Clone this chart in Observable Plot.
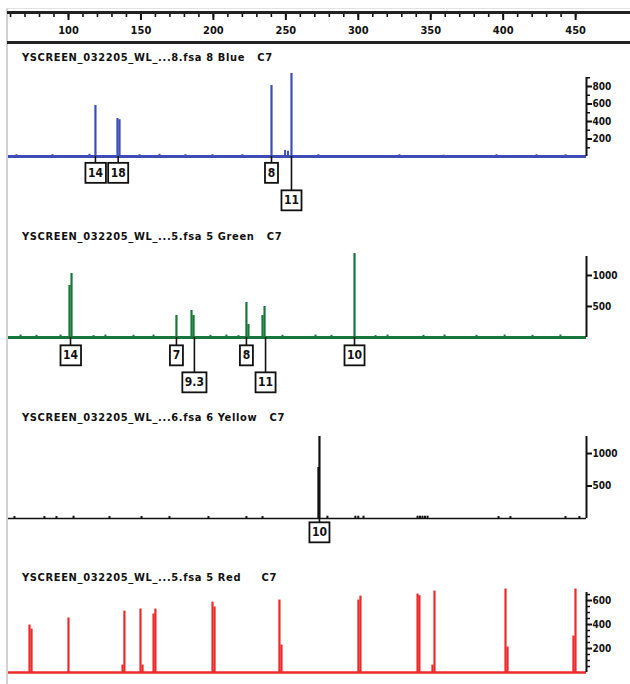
<!DOCTYPE html>
<html><head><meta charset="utf-8">
<script src="https://cdn.jsdelivr.net/npm/d3@7"></script>
<script src="https://cdn.jsdelivr.net/npm/@observablehq/plot@0.6"></script>
<style>
body{margin:0;background:#fff;}
#wrap{position:relative;width:630px;height:684px;overflow:hidden;background:#fff;}
#frame{position:absolute;left:6px;top:8px;width:700px;height:700px;border-left:2px solid #d2d2d2;border-top:1px solid #e2e2e2;}
#topbar{position:absolute;left:7px;top:11px;width:640px;height:27px;border-top:3px solid #222;border-bottom:3px solid #222;}
.title{position:absolute;left:22px;font-family:"DejaVu Sans Condensed","DejaVu Sans",sans-serif;font-weight:bold;font-size:11px;letter-spacing:0.65px;line-height:12px;white-space:pre;color:#111;}
.panel{position:absolute;left:0;}
</style></head><body><div id="wrap"><div id="frame"></div><div id="topbar"></div></div>
<script>
// ---------- data ----------
const xDomain = [58.6, 457.5];
const axisMajor = [100, 150, 200, 250, 300, 350, 400, 450];
const axisMinor = d3.range(60, 458, 10);

const titles = [
  "YSCREEN_032205_WL_...8.fsa 8 Blue   C7",
  "YSCREEN_032205_WL_...5.fsa 5 Green   C7",
  "YSCREEN_032205_WL_...6.fsa 6 Yellow   C7",
  "YSCREEN_032205_WL_...5.fsa 5 Red     C7"
];

// Blue channel
const bluePos = [118.6, 133.8, 135.2, 240.1, 253.9];
const blueHeight = [583, 434, 420, 811, 949];
const blueNoisePos = [64.1, 89, 114.5, 149, 162.8, 180.7, 199.4, 220, 249.5, 251.5, 272.5, 328.4, 358.8, 395.4, 423, 443];
const blueNoiseHeight = [20, 20, 25, 20, 25, 20, 20, 20, 70, 60, 20, 20, 15, 20, 20, 20];
const blueLabels = ["14", "18", "8", "11"];
const blueLabelPos = [118.6, 134.3, 240.1, 253.9];
const blueLabelRow = [1, 1, 1, 2];
const blueTicks = [200, 400, 600, 800];
const blueMinor = [100, 300, 500, 700, 900];

// Green channel
const greenPos = [100.7, 102.1, 174.5, 184.9, 186.3, 222.8, 224.2, 233.9, 235.3, 297.4];
const greenHeight = [839, 1032, 355, 435, 355, 565, 210, 355, 500, 1355];
const greenNoisePos = [66.9, 77.9, 94.5, 117.3, 125.5, 144.9, 158.7, 198, 209, 217.3, 247.7, 270.5, 281.5, 311.9, 320.2, 345, 359.5, 381.6, 401, 420.2, 439.5];
const greenNoiseHeight = [40, 35, 40, 30, 40, 35, 40, 35, 40, 30, 35, 40, 35, 30, 40, 35, 40, 35, 40, 35, 40];
const greenLabels = ["14", "7", "9.3", "8", "11", "10"];
const greenLabelPos = [101.4, 174.5, 186.9, 222.8, 236, 297.4];
const greenLabelRow = [1, 1, 2, 1, 2, 1];
const greenTicks = [500, 1000];

// Yellow channel (drawn black)
const yellowPos = [272.5, 273.2];
const yellowHeight = [785, 1262];
const yellowNoisePos = [62.7, 83.4, 91.7, 103.5, 128.3, 150.4, 169.7, 196.6, 222.8, 233.9, 278.7, 298, 300, 303.6, 340.9, 342.6, 344.3, 346, 347.8, 396.8, 405, 443, 452.6];
const yellowNoiseHeight = [30, 30, 30, 35, 30, 30, 30, 30, 30, 30, 35, 35, 35, 35, 35, 35, 35, 35, 35, 30, 30, 30, 30];
const yellowLabels = ["10"];
const yellowLabelPos = [273.2];
const yellowLabelRow = [1];
const yellowTicks = [500, 1000];

// Red channel
const redPos = [73.1, 74.5, 100, 137.3, 138.6, 149.7, 151.1, 158.7, 160, 199.4, 200.8, 245.6, 247, 300.1, 301.5, 340.9, 342.2, 351.2, 352.6, 401.6, 403, 448.5, 449.9];
const redHeight = [396, 362, 454, 62, 512, 529, 62, 488, 529, 587, 546, 604, 229, 604, 637, 654, 640, 62, 679, 696, 212, 304, 696];
const redTicks = [200, 400, 600];
const redMinor = [50, 100, 150, 250, 300, 350, 450, 500, 550, 650];

// ---------- drawing ----------
const wrap = document.getElementById("wrap");
const tickFont = '"DejaVu Sans Condensed","DejaVu Sans",sans-serif';
const labelFont = '"DejaVu Sans Condensed","DejaVu Sans",sans-serif';

// top ruler
const ruler = Plot.plot({
  width: 630, height: 45, marginLeft: 8, marginRight: 44, marginTop: 0, marginBottom: 31,
  x: {domain: xDomain},
  marks: [
    Plot.axisX({ticks: axisMinor, tickSize: 3, tickFormat: () => "", strokeWidth: 1.6, label: null}),
    Plot.axisX({ticks: axisMajor, tickSize: 6, tickPadding: 6, tickFormat: d => String(d), label: null,
      strokeWidth: 2, fontWeight: "bold", fontSize: 11, fontFamily: tickFont})
  ],
  style: {background: "transparent", color: "#111", overflow: "visible"}
});
ruler.classList.add("panel");
ruler.style.top = "0px";
wrap.appendChild(ruler);

function panel(cfg) {
  const marginTop = cfg.axisTop - cfg.svgTop;
  const marginBottom = cfg.svgBottom - cfg.baseline;
  const height = cfg.svgBottom - cfg.svgTop;
  const k = (cfg.baseline - cfg.axisTop) / cfg.yMax;
  const below = px => -px / k;
  const peaks = cfg.pos.map((x, i) => ({x, h: cfg.height[i]}));
  const noise = (cfg.noisePos || []).map((x, i) => ({x, h: cfg.noiseHeight[i]}));
  const labels = (cfg.labels || []).map((t, i) => ({t, x: cfg.labelPos[i], row: cfg.labelRow[i]}));
  const centerY = d => below(d.row === 1 ? cfg.row1 : cfg.row2);
  const marks = [
    Plot.ruleY([0], {stroke: cfg.color, strokeWidth: cfg.baseW}),
    Plot.ruleX(noise, {x: "x", y1: 0, y2: "h", stroke: cfg.color, strokeWidth: 2}),
    Plot.ruleX(peaks, {x: "x", y1: 0, y2: "h", stroke: cfg.color, strokeWidth: 2.2}),
    Plot.ruleX(labels, {x: "x", y1: 0, y2: centerY, stroke: "#111", strokeWidth: 1.6}),
    Plot.text(labels, {x: "x", y: centerY, text: "t", fill: "#111", fontWeight: "bold",
      fontSize: 12, fontFamily: labelFont}),
    Plot.ruleX([xDomain[1]], {y1: 0, y2: cfg.yMax, stroke: "#111", strokeWidth: 2}),
    Plot.axisY({anchor: "right", ticks: cfg.ticks, tickSize: 5, tickPadding: 1, strokeWidth: 2, label: null,
      tickFormat: d => String(d), fontWeight: "bold", fontSize: 10, fontFamily: tickFont})
  ];
  if (cfg.minor) marks.push(Plot.axisY({anchor: "right", ticks: cfg.minor, tickSize: 3, strokeWidth: 1.5, label: null, tickFormat: () => ""}));
  const svg = Plot.plot({
    width: 630, height, marginLeft: 8, marginRight: 44, marginTop, marginBottom,
    x: {domain: xDomain, axis: null},
    y: {domain: [0, cfg.yMax]},
    marks,
    style: {background: "transparent", color: "#111", overflow: "visible"}
  });
  svg.classList.add("panel");
  svg.style.top = cfg.svgTop + "px";
  wrap.appendChild(svg);
  // boxes around allele labels
  d3.select(svg).selectAll('g[aria-label="text"] text').each(function () {
    const b = this.getBBox();
    const w = Math.max(b.width + 5, 13);
    const r = d3.select(this.parentNode).insert("rect", () => this)
      .attr("x", b.x + b.width / 2 - w / 2).attr("y", b.y - 3)
      .attr("width", w).attr("height", b.height + 6)
      .attr("fill", "#fff").attr("stroke", "#111").attr("stroke-width", 1.8);
    const tr = this.getAttribute("transform");
    if (tr) r.attr("transform", tr);
  });
  const t = document.createElement("div");
  t.className = "title";
  t.textContent = cfg.title;
  t.style.top = cfg.titleTop + "px";
  wrap.appendChild(t);
}

panel({title: titles[0], titleTop: 52, svgTop: 68, axisTop: 77, baseline: 156, svgBottom: 214, yMax: 903,
  color: "#3d4db5", baseW: 3, pos: bluePos, height: blueHeight, noisePos: blueNoisePos, noiseHeight: blueNoiseHeight,
  labels: blueLabels, labelPos: blueLabelPos, labelRow: blueLabelRow, row1: 16.5, row2: 44,
  ticks: blueTicks, minor: blueMinor});

panel({title: titles[1], titleTop: 231, svgTop: 248, axisTop: 256, baseline: 337, svgBottom: 395, yMax: 1306,
  color: "#17773a", baseW: 3, pos: greenPos, height: greenHeight, noisePos: greenNoisePos, noiseHeight: greenNoiseHeight,
  labels: greenLabels, labelPos: greenLabelPos, labelRow: greenLabelRow, row1: 18, row2: 45,
  ticks: greenTicks});

panel({title: titles[2], titleTop: 412, svgTop: 428, axisTop: 436, baseline: 518, svgBottom: 545, yMax: 1262,
  color: "#111", baseW: 1.6, pos: yellowPos, height: yellowHeight, noisePos: yellowNoisePos, noiseHeight: yellowNoiseHeight,
  labels: yellowLabels, labelPos: yellowLabelPos, labelRow: yellowLabelRow, row1: 14, row2: 40,
  ticks: yellowTicks});

panel({title: titles[3], titleTop: 572, svgTop: 584, axisTop: 592, baseline: 672, svgBottom: 684, yMax: 667,
  color: "#ec2a2a", baseW: 2.5, pos: redPos, height: redHeight,
  ticks: redTicks, minor: redMinor});
</script>
</body></html>
